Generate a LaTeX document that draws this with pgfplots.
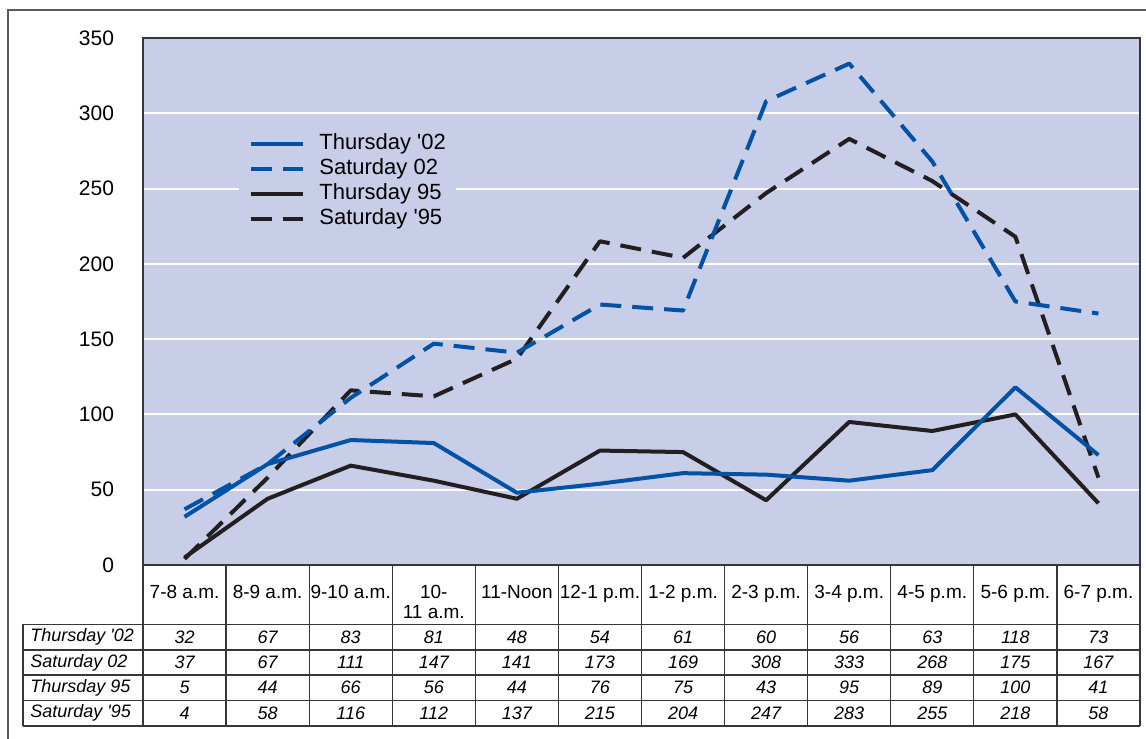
\documentclass[border=0pt]{standalone}
\usepackage{pgfplots}
\pgfplotsset{compat=1.18}
\usepackage{pgfplotstable}
\usepackage{fontspec}
\setmainfont{Liberation Sans}[Ligatures=TeXOff]
\definecolor{plotbg}{RGB}{200,205,232}
\definecolor{lblue}{RGB}{0,82,164}
\definecolor{lblack}{RGB}{35,31,32}
\definecolor{framec}{RGB}{90,90,90}
\definecolor{tline}{RGB}{55,55,55}

\pgfplotstableread{
x thu02 sat02 thu95 sat95
0 32 37 5 4
1 67 67 44 58
2 83 111 66 116
3 81 147 56 112
4 48 141 44 137
5 54 173 76 215
6 61 169 75 204
7 60 308 43 247
8 56 333 95 283
9 63 268 89 255
10 118 175 100 218
11 73 167 41 58
}\datatable

\begin{document}
\begin{tikzpicture}
\begin{axis}[
  at={(71.5pt,-282.5pt)}, anchor=south west,
  scale only axis, width=498.5pt, height=263.5pt,
  xmin=-0.5, xmax=11.5, ymin=0, ymax=350,
  axis background/.style={fill=plotbg},
  axis line style={draw=tline, line width=0.7pt},
  ytick={0,50,...,350},
  ymajorgrids, grid style={white, line width=1pt},
  major tick length=0pt,
  xtick={0,...,11},
  xticklabels={7-8 a.m., 8-9 a.m., 9-10 a.m., {10-\\11 a.m.}, 11-Noon, 12-1 p.m., 1-2 p.m., 2-3 p.m., 3-4 p.m., 4-5 p.m., 5-6 p.m., 6-7 p.m.},
  xticklabel style={align=center, font=\fontsize{9.5}{10}\selectfont, anchor=north, yshift=-6.5pt},
  yticklabel style={font=\fontsize{10.5}{12}\selectfont, anchor=east, xshift=-11pt},
  /pgf/number format/assume math mode=true,
  legend style={at={(0.0963,0.83)}, anchor=north west, fill=plotbg, draw=none,
    inner xsep=5pt, inner ysep=3pt, font=\fontsize{11}{13}\selectfont,
    row sep=2pt, column sep=7pt,
    nodes={inner sep=0pt, text height=8pt, text depth=2.5pt}},
  legend cell align=left,
  legend image code/.code={\draw[#1] (0pt,0pt) -- (26pt,0pt);},
  reverse legend,
  every axis plot/.append style={line width=2pt, line join=round},
]
\addplot[lblack, dash pattern=on 10.5pt off 5.5pt] table[x=x,y=sat95] {\datatable};
\addplot[lblack] table[x=x,y=thu95] {\datatable};
\addplot[lblue, dash pattern=on 10.5pt off 5.5pt] table[x=x,y=sat02] {\datatable};
\addplot[lblue] table[x=x,y=thu02] {\datatable};
\legend{Saturday '95, Thursday 95, Saturday 02, Thursday '02}
\end{axis}

\begin{scope}[x=0.5pt, y=-0.5pt]
  \draw[framec, line width=0.9pt] (8,800) -- (8,10) -- (1200,10);
  \foreach \k in {0,...,12} \draw[tline, line width=0.6pt] ({143+83.0833*\k},565) -- ({143+83.0833*\k},726);
  \foreach \yy in {624.3,650,675,700.5,726} \draw[tline, line width=0.6pt] (23,\yy) -- (1140,\yy);
  \draw[tline, line width=0.6pt] (23,624.3) -- (23,726);
  \begin{scope}[every node/.style={font=\itshape\fontsize{9}{10}\selectfont, inner sep=0pt}]
    \node[anchor=west] at (30,637) {Thursday '02};
    \node[anchor=west] at (30,662.5) {Saturday 02};
    \node[anchor=west] at (30,687.5) {Thursday 95};
    \node[anchor=west] at (30,713) {Saturday '95};
    \foreach \r in {0,...,11}{
      \pgfmathsetmacro\cx{143+83.0833*(\r+0.5)}
      \pgfplotstablegetelem{\r}{thu02}\of\datatable
      \node at (\cx,637) {\pgfplotsretval};
      \pgfplotstablegetelem{\r}{sat02}\of\datatable
      \node at (\cx,662.5) {\pgfplotsretval};
      \pgfplotstablegetelem{\r}{thu95}\of\datatable
      \node at (\cx,687.5) {\pgfplotsretval};
      \pgfplotstablegetelem{\r}{sat95}\of\datatable
      \node at (\cx,713) {\pgfplotsretval};
    }
  \end{scope}
\end{scope}
\pgfresetboundingbox
\path[use as bounding box] (0,0) rectangle (573pt,-369.5pt);
\end{tikzpicture}
\end{document}
